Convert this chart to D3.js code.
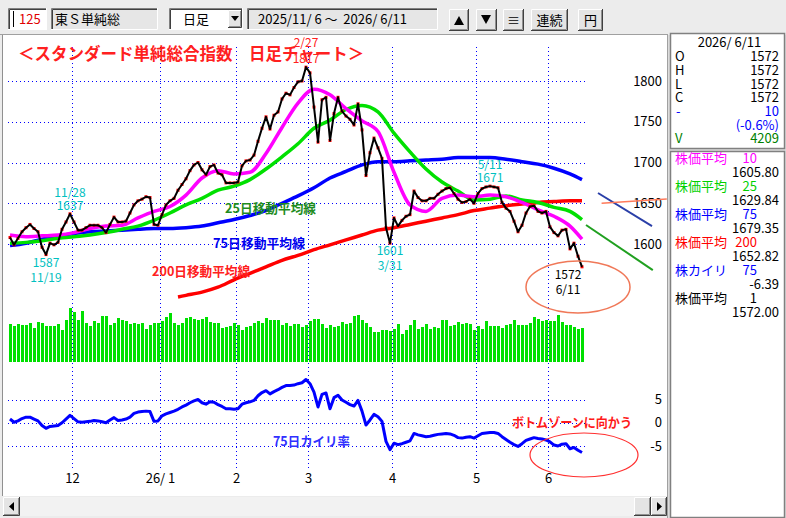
<!DOCTYPE html>
<html><head><meta charset="utf-8">
<script src="https://cdn.jsdelivr.net/npm/d3@7"></script>
<style>
body{margin:0;background:#fff;}
svg{display:block;}
text{font-family:'Noto Sans CJK JP','Noto Sans',sans-serif;white-space:pre;}
</style>
</head><body>
<svg id="c" width="786" height="518"></svg>
<script>
// ---------------- DATA ----------------
const closes = [
1608,1599,1607,1615,1620,1624,1619,1615,1596,1587,
1601,1599,1602,1618,1627,1637,1627,1617,1617,1620,
1623,1623,1623,1620,1614,1624,1633,1627,1627,1628,
1638,1648,1653,1655,1658,1657,1624,1623,1636,1648,
1653,1656,1666,1673,1680,1690,1697,1700,1691,1685,
1695,1697,1687,1685,1675,1675,1675,1676,1696,1702,
1703,1709,1726,1742,1756,1741,1758,1762,1778,1785,
1783,1792,1799,1800,1817,1810,1768,1725,1777,1780,
1727,1760,1780,1763,1757,1753,1746,1772,1740,1684,
1712,1730,1718,1705,1620,1601,1632,1622,1629,1634,
1636,1665,1657,1653,1653,1656,1656,1661,1665,1668,
1669,1662,1655,1651,1652,1655,1650,1662,1668,1670,
1671,1670,1669,1651,1644,1640,1628,1615,1623,1638,
1646,1647,1640,1638,1640,1621,1614,1610,1617,1618,
1594,1601,1585,1572];

const volumes = [
4710,4460,4710,4580,4580,4830,4210,4960,4830,4460,
4460,4460,4710,3960,5210,6710,6210,5210,6330,4830,
4460,5080,4830,5710,5710,4580,4830,5460,5210,5080,
4710,4830,4710,4830,4080,4580,4830,4830,5080,5580,
6080,4830,4580,4830,5460,5580,5330,5210,5330,5580,
4960,4830,4830,4210,4330,4460,4830,4580,3960,4330,
4460,4830,5080,4830,5460,5210,5210,5210,4580,4830,
4460,4710,4710,4330,4580,5080,5330,5330,4710,4210,
4580,4330,4460,4960,4710,4830,5710,5830,5210,4830,
4330,3710,3710,3960,3960,3830,4080,4710,3460,3960,
4580,5210,4080,4330,4710,4080,4330,4210,5210,5210,
4460,4580,4960,4710,4830,4710,3960,4460,4080,5080,
4460,4460,4460,4210,4580,4710,5210,4580,4580,4580,
4830,5580,5330,5080,5210,5080,5080,5830,4960,4580,
4580,4330,4080,4209];

const kairi75 = [
0.8,0.1,0.4,0.9,1.2,1.2,0.8,0.4,-0.6,-1.2,
-0.8,-0.7,-0.6,0.0,0.8,1.6,0.9,0.2,0.1,0.2,
0.3,0.5,0.4,0.2,0.0,0.6,1.1,0.5,0.6,0.8,
1.2,2.0,2.3,2.4,2.5,2.4,0.3,0.4,1.5,1.9,
2.2,2.5,2.9,3.4,3.8,4.3,4.7,5.0,4.3,4.0,
4.5,4.4,3.9,3.5,3.0,3.0,2.9,3.0,4.0,4.3,
4.5,4.8,5.8,6.5,6.9,6.2,6.7,7.1,7.6,8.0,
8.0,8.1,8.4,8.6,9.3,8.4,6.6,3.4,6.1,6.4,
3.0,5.4,5.9,4.9,4.4,3.9,3.6,4.8,2.5,-0.5,
0.6,1.8,1.3,0.3,-4.0,-5.8,-4.4,-4.7,-4.5,-4.2,
-3.9,-2.3,-2.6,-2.8,-3.0,-2.9,-2.7,-2.5,-2.4,-2.3,
-2.4,-2.7,-3.2,-3.3,-3.1,-3.0,-3.3,-2.8,-2.3,-2.2,
-2.1,-2.1,-2.3,-3.0,-3.6,-4.2,-4.7,-5.1,-4.5,-3.8,
-3.5,-3.2,-3.4,-3.5,-3.7,-4.1,-4.8,-5.0,-4.6,-4.5,
-5.6,-5.3,-5.9,-6.4];

// moving averages, read at these trading-day indices
const maIdx = [0,4,8,12,16,20,24,28,32,36,40,44,48,52,56,60,64,68,72,76,80,84,88,92,96,100,104,108,112,116,120,124,128,132,136,140,143];
const ma10 = [1611,1609,1610,1611,1614,1619,1622,1623,1632,1640,1646,1660,1681,1690,1686,1688,1711,1743,1773,1790,1783,1766,1751,1738,1688,1648,1640,1656,1660,1658,1660,1658,1651,1642,1634,1622,1606];
const ma25 = [1601,1602,1604,1607,1609,1611,1614,1618,1622,1629,1638,1648,1656,1666,1671,1679,1692,1707,1723,1742,1752,1765,1770,1762,1736,1713,1692,1676,1665,1654,1655,1659,1654,1651,1645,1640,1630];
const ma75 = [1598,1601,1606,1610,1613,1615,1616,1617,1618,1619,1619,1620,1622,1626,1630,1635,1641,1650,1659,1669,1681,1689,1697,1701,1701,1702,1703,1704,1706,1706,1706,1704,1701,1698,1693,1686,1679];
const ma200Idx = [42,44,48,52,56,60,64,68,72,76,80,84,88,92,96,100,104,108,112,116,120,124,128,132,136,140,143];
const ma200 = [1535,1537,1541,1547,1556,1564,1572,1580,1586,1593,1599,1605,1611,1617,1620,1624,1628,1632,1636,1641,1644,1647,1649,1651,1652,1653,1653];

// month ticks: label and index of first trading day
const monthLabels = ["12","26/ 1","2","3","4","5","6"];
const monthStart = [16,38,57,75,96,117,135];
const priceTicks = [1600,1650,1700,1750,1800];
const kairiTicks = [5,0,-5];

// annotated points: [index, value, line1, line2, side]
const highLow = [
  [15,1637,"11/28","1637","top"],
  [9,1587,"1587","11/19","bottom"],
  [95,1601,"1601","3/31","bottom"],
  [120,1671,"5/11","1671","top"]
];
// hand drawn trend lines [i0,p0,i1,p1,color,width]
const trendLines = [
  [147,1662.6,160.5,1622,"#2a3fa8",2],
  [147.9,1650,164.2,1655.2,"#ff7a5a",1.5],
  [144,1623.3,160.7,1568,"#20a020",2]
];
// side panel info
const infoDate = "2026/ 6/11";
const ohlc = [["O","1572"],["H","1572"],["L","1572"],["C","1572"]];
const change = "10", changePct = "(-0.6%)", vol = "4209";
const maInfo = [
  ["株価平均","10","1605.80","#ff00ff"],
  ["株価平均","25","1629.84","#00d000"],
  ["株価平均","75","1679.35","#0000ff"],
  ["株価平均","200","1652.82","#ff0000"],
  ["株カイリ","75","-6.39","#0000ff"],
  ["株価平均","1","1572.00","#000000"]
];

// ---------------- DRAW ----------------
const svg = d3.select("#c");
const W = 786, H = 518;

const x = d3.scaleLinear().domain([0,143]).range([10,582]);
const y = d3.scaleLinear().domain([1600,1800]).range([244,81]);
const yv = d3.scaleLinear().domain([0,8000]).range([362,298]);
const yk = d3.scaleLinear().domain([-5,5]).range([446,399.5]);

// chrome
svg.append("rect").attr("width",W).attr("height",H).attr("fill","#ececec");
svg.append("rect").attr("x",3).attr("y",35).attr("width",664).attr("height",461).attr("fill","#fff");
svg.append("line").attr("x1",0).attr("x2",668).attr("y1",34.5).attr("y2",34.5).attr("stroke","#a0a0a0");
svg.append("line").attr("x1",2.5).attr("x2",2.5).attr("y1",35).attr("y2",496).attr("stroke","#909090");
svg.append("line").attr("x1",667.5).attr("x2",667.5).attr("y1",34).attr("y2",518).attr("stroke","#a0a0a0");

function sunken(x0,y0,w,h,fill){
  svg.append("rect").attr("x",x0).attr("y",y0).attr("width",w).attr("height",h).attr("fill",fill);
  svg.append("path").attr("d",`M${x0+0.5},${y0+h}V${y0+0.5}H${x0+w}`).attr("stroke","#808080").attr("fill","none");
  svg.append("path").attr("d",`M${x0+1.5},${y0+h-1}V${y0+1.5}H${x0+w-1}`).attr("stroke","#404040").attr("fill","none");
  svg.append("path").attr("d",`M${x0},${y0+h-0.5}H${x0+w-0.5}V${y0}`).attr("stroke","#ffffff").attr("fill","none");
}
function raised(x0,y0,w,h){
  svg.append("rect").attr("x",x0).attr("y",y0).attr("width",w).attr("height",h).attr("fill","#e4e4e4");
  svg.append("path").attr("d",`M${x0+0.5},${y0+h}V${y0+0.5}H${x0+w}`).attr("stroke","#ffffff").attr("fill","none");
  svg.append("path").attr("d",`M${x0},${y0+h-0.5}H${x0+w-0.5}V${y0}`).attr("stroke","#404040").attr("fill","none");
  svg.append("path").attr("d",`M${x0+1},${y0+h-1.5}H${x0+w-1.5}V${y0+1}`).attr("stroke","#909090").attr("fill","none");
}
function txt(s,x0,y0,opt={}){
  return svg.append("text").attr("x",x0).attr("y",y0).text(s)
    .attr("font-size",opt.size||13).attr("fill",opt.fill||"#000")
    .attr("text-anchor",opt.anchor||"start").attr("font-weight",opt.weight||"normal");
}

// toolbar
sunken(8,8,39,22,"#fff");
svg.append("line").attr("x1",13.5).attr("x2",13.5).attr("y1",11).attr("y2",27).attr("stroke","#000");
txt("125",19,24,{fill:"#e00000"});
sunken(51,8,107,22,"#e6e6e6");
txt("東Ｓ単純総",55,24);
sunken(169,8,74,22,"#fff");
txt("日足",183,24);
raised(228,10,14,18);
svg.append("path").attr("d","M231,16h8l-4,5z").attr("fill","#000");
sunken(247,8,191,22,"#e6e6e6");
txt("2025/11/ 6 ～  2026/ 6/11",258,24);
raised(449,9,20,22); svg.append("path").attr("d","M454,25h10l-5,-9z").attr("fill","#000");
raised(476,9,21,22); svg.append("path").attr("d","M481,15h10l-5,9z").attr("fill","#000");
raised(503,9,21,22); txt("≡",513.5,25,{anchor:"middle"});
raised(531,9,37,22); txt("連続",549.5,25,{anchor:"middle"});
raised(578,9,25,22); txt("円",590.5,25,{anchor:"middle"});

// scrollbar
svg.append("rect").attr("x",3).attr("y",497).attr("width",664).attr("height",19).attr("fill","#f2f2f2");
raised(3,497,17,19); svg.append("path").attr("d","M14,502v9l-5,-4.5z").attr("fill","#000");
raised(634,497,17,19);
raised(651,497,16,19); svg.append("path").attr("d","M657,502v9l5,-4.5z").attr("fill","#000");

// side panel
svg.append("rect").attr("x",668).attr("y",35).attr("width",118).attr("height",483).attr("fill","#dcdcdc");
function box(x0,y0,w,h){
  svg.append("rect").attr("x",x0+0.5).attr("y",y0+0.5).attr("width",w).attr("height",h).attr("fill","#fff").attr("stroke","#808080").attr("stroke-width",1.5);
}
box(670,33,114,115);
box(670,151,114,366);
txt(infoDate,729.5,47,{anchor:"middle"});
ohlc.forEach((d,i)=>{ txt(d[0],675,61+i*13.8); txt(d[1],779,61+i*13.8,{anchor:"end"}); });
txt("-",676,115.5,{fill:"#0000ff"}); txt(change,779,115.5,{fill:"#0000ff",anchor:"end"});
txt(changePct,779,129.5,{fill:"#0000ff",anchor:"end"});
txt("V",675,143,{fill:"#008000"}); txt(vol,779,143,{fill:"#008000",anchor:"end"});
maInfo.forEach((d,i)=>{
  const by = 163 + i*28;
  txt(d[0],675,by,{fill:d[3]});
  txt(d[1],757,by,{fill:d[3],anchor:"end"});
  txt(d[2],779,by+14,{anchor:"end"});
});

// gridlines
const grid = svg.append("g").attr("stroke","#0000ff").attr("stroke-width",1).attr("stroke-dasharray","1,3").attr("shape-rendering","crispEdges");
priceTicks.forEach(p=>grid.append("line").attr("x1",8).attr("x2",585).attr("y1",Math.round(y(p))+0.5).attr("y2",Math.round(y(p))+0.5));
kairiTicks.forEach(k=>grid.append("line").attr("x1",8).attr("x2",585).attr("y1",Math.round(yk(k))+0.5).attr("y2",Math.round(yk(k))+0.5));
monthStart.forEach(i=>grid.append("line").attr("x1",Math.round(x(i-0.5))+0.5).attr("x2",Math.round(x(i-0.5))+0.5).attr("y1",47).attr("y2",470));

// axes
const ax1 = svg.append("g").attr("transform","translate(662,0)")
  .call(d3.axisLeft(y).tickValues(priceTicks).tickSize(0).tickPadding(0).tickFormat(d3.format("d")));
const ax2 = svg.append("g").attr("transform","translate(662,0)")
  .call(d3.axisLeft(yk).tickValues(kairiTicks).tickSize(0).tickPadding(0).tickFormat(d=>d));
const ax3 = svg.append("g").attr("transform","translate(0,471)")
  .call(d3.axisBottom(x).tickValues(monthStart.map(i=>i-0.5)).tickSize(0).tickPadding(3)
    .tickFormat((d,i)=>monthLabels[i]));
[ax1,ax2,ax3].forEach(a=>{
  a.select(".domain").remove();
  a.selectAll("text").attr("font-size",13).attr("fill","#000").attr("font-family","'Noto Sans CJK JP','Noto Sans',sans-serif");
});

// volume bars
svg.append("g").selectAll("rect").data(volumes).join("rect")
  .attr("x",(d,i)=>x(i)-1.5).attr("width",3)
  .attr("y",d=>yv(d)).attr("height",d=>yv(0)-yv(d))
  .attr("fill","#00e000").attr("shape-rendering","crispEdges");

// moving averages
const maLine = (idx)=>d3.line().x((d,i)=>x(idx[i])).y(d=>y(d)).curve(d3.curveMonotoneX);
const drawMA = (vals,idx,col)=>svg.append("path").datum(vals).attr("d",maLine(idx))
  .attr("fill","none").attr("stroke",col).attr("stroke-width",3.5).attr("stroke-linejoin","round");
drawMA(ma200,ma200Idx,"#ff0000");
drawMA(ma75,maIdx,"#0000ff");
drawMA(ma25,maIdx,"#00e000");
drawMA(ma10,maIdx,"#ff00ff");

// close line
svg.append("g").selectAll("rect").data(closes).join("rect")
  .attr("x",(d,i)=>x(i)-1.5).attr("y",d=>y(d)-1.5).attr("width",3).attr("height",3).attr("fill","#ff0000");
svg.append("path").datum(closes)
  .attr("d",d3.line().x((d,i)=>x(i)).y(d=>y(d)))
  .attr("fill","none").attr("stroke","#000").attr("stroke-width",2).attr("stroke-linejoin","round");

// trend lines
trendLines.forEach(t=>svg.append("line").attr("x1",x(t[0])).attr("y1",y(t[1])).attr("x2",x(t[2])).attr("y2",y(t[3]))
  .attr("stroke",t[4]).attr("stroke-width",t[5]));

// kairi line
svg.append("path").datum(kairi75)
  .attr("d",d3.line().x((d,i)=>x(i)).y(d=>yk(d)))
  .attr("fill","none").attr("stroke","#0000ff").attr("stroke-width",3).attr("stroke-linejoin","round");

// title with opaque background
const title = txt("＜スタンダード単純総合指数　日足チャート＞",18,60,{fill:"#ff2020",size:16.5,weight:"bold"});
const tb = title.node().getBBox();
svg.insert("rect","text").attr("x",tb.x).attr("y",tb.y+3).attr("width",tb.width).attr("height",tb.height-5).attr("fill","#fff");
title.raise();

// high / low labels
const LS = 12;
highLow.forEach(h=>{
  const cx = x(h[0]);
  if(h[4]==="top"){
    txt(h[2],cx,y(h[1])-17,{fill:"#00c0c0",anchor:"middle",size:LS});
    txt(h[3],cx,y(h[1])-4,{fill:"#00c0c0",anchor:"middle",size:LS});
  } else {
    txt(h[2],cx,y(h[1])+12,{fill:"#00c0c0",anchor:"middle",size:LS});
    txt(h[3],cx,y(h[1])+27,{fill:"#00c0c0",anchor:"middle",size:LS});
  }
});
// peak label
const peakI = closes.indexOf(d3.max(closes));
txt("2/27",x(peakI),47,{fill:"#ff2020",anchor:"middle",size:LS});
txt(String(d3.max(closes)),x(peakI),63,{fill:"#ff2020",anchor:"middle",size:LS});
// last label
txt(String(closes[143]),x(143)-14,279,{anchor:"middle",size:LS});
txt("6/11",x(143)-14,294,{anchor:"middle",size:LS});

// annotation texts
txt("25日移動平均線",225,213,{fill:"#1e8c1e",weight:"bold"}).attr("textLength",91).attr("lengthAdjust","spacingAndGlyphs");
txt("75日移動平均線",213,248,{fill:"#0000ee",weight:"bold"}).attr("textLength",92).attr("lengthAdjust","spacingAndGlyphs");
txt("200日移動平均線",152,276,{fill:"#ff2020",weight:"bold"}).attr("textLength",98).attr("lengthAdjust","spacingAndGlyphs");
txt("75日カイリ率",273,446,{fill:"#3030ff",weight:"bold"}).attr("textLength",77).attr("lengthAdjust","spacingAndGlyphs");
txt("ボトムゾーンに向かう",512,427,{fill:"#ff1a1a",weight:"bold"}).attr("textLength",120).attr("lengthAdjust","spacingAndGlyphs");

// ellipses
svg.append("ellipse").attr("cx",578).attr("cy",287).attr("rx",52).attr("ry",26)
  .attr("fill","none").attr("stroke","#f07858").attr("stroke-width",1.5);
svg.append("ellipse").attr("cx",584).attr("cy",455).attr("rx",54).attr("ry",22)
  .attr("fill","none").attr("stroke","#ff3030").attr("stroke-width",1.2);
</script>
</body></html>
